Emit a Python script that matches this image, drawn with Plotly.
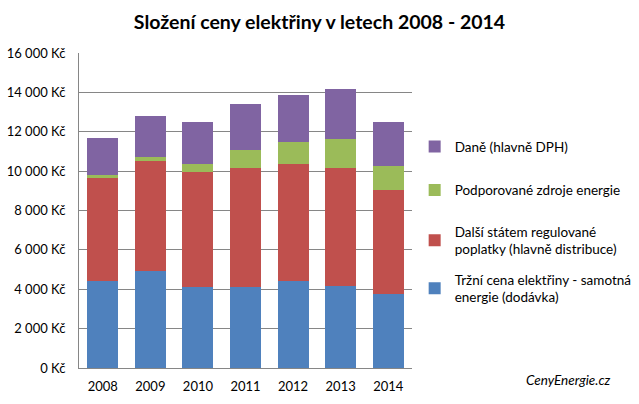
import plotly.graph_objects as go

years = ["2008", "2009", "2010", "2011", "2012", "2013", "2014"]
trzni = [4400, 4940, 4130, 4130, 4430, 4180, 3770]
dalsi = [5280, 5590, 5840, 6040, 5940, 5990, 5280]
podpor = [100, 170, 410, 920, 1120, 1470, 1220]
dane = [1920, 2110, 2130, 2330, 2390, 2550, 2240]

tick_vals = [0, 2000, 4000, 6000, 8000, 10000, 12000, 14000, 16000]
tick_text = ["0 Kč", "2 000 Kč", "4 000 Kč", "6 000 Kč", "8 000 Kč",
             "10 000 Kč", "12 000 Kč", "14 000 Kč", "16 000 Kč"]

# name, values, colour, legend, rank
series = [
    ("Tržní cena elektřiny - samotná<br>energie (dodávka)", trzni, "#4F81BD", "legend2", 4),
    ("Další státem regulované<br>poplatky (hlavně distribuce)", dalsi, "#C0504D", "legend2", 3),
    ("Podporované zdroje energie", podpor, "#9BBB59", "legend", 2),
    ("Daně (hlavně DPH)", dane, "#8064A2", "legend", 1),
]

font = "Lato, 'Open Sans', sans-serif"
fig = go.Figure()
for i, (name, vals, col, leg, rank) in enumerate(series):
    fig.add_trace(go.Bar(x=years, y=vals, name=name, marker_color=col,
                         marker_line_width=0, legendgroup=str(i),
                         legend=leg, legendrank=rank))

legfont = dict(size=13.5, family=font, color="#000000")
fig.update_layout(
    barmode="stack",
    bargap=0.35,
    width=639, height=404,
    margin=dict(l=79, r=227, t=53, b=36, autoexpand=False),
    paper_bgcolor="white", plot_bgcolor="white",
    font=dict(family=font, size=12, color="#000000"),
    title=dict(text="<b>Složení ceny elektřiny v letech 2008 - 2014</b>",
               x=0.5, xanchor="center", y=0.945, yanchor="middle",
               font=dict(size=19.5, family=font, color="#000000")),
    legend=dict(x=1.008, xanchor="left", y=0.752, yanchor="top",
                traceorder="grouped", tracegroupgap=23,
                font=legfont, itemwidth=30),
    legend2=dict(x=1.008, xanchor="left", y=0.482, yanchor="top",
                 traceorder="grouped", tracegroupgap=10,
                 font=legfont, itemwidth=30),
    showlegend=True,
)
fig.update_yaxes(range=[0, 16000], tickvals=tick_vals, ticktext=tick_text,
                 showgrid=True, gridcolor="#868686", gridwidth=1,
                 showline=True, linecolor="#868686", linewidth=1,
                 ticks="", zeroline=False, ticklabelstandoff=10,
                 tickfont=dict(size=13, family=font, color="#000000"))
fig.update_xaxes(showline=True, linecolor="#868686", linewidth=1,
                 ticks="", ticklabelstandoff=6,
                 tickfont=dict(size=13, family=font, color="#000000"))
fig.add_annotation(text="<i>CenyEnergie.cz</i>", xref="paper", yref="paper",
                   x=1.604, y=-0.038, xanchor="right", yanchor="middle", showarrow=False,
                   font=dict(size=13.5, family=font, color="#000000"))
fig.write_html("out.html", post_script="document.body.style.margin='0';",
               config={"displayModeBar": False})
